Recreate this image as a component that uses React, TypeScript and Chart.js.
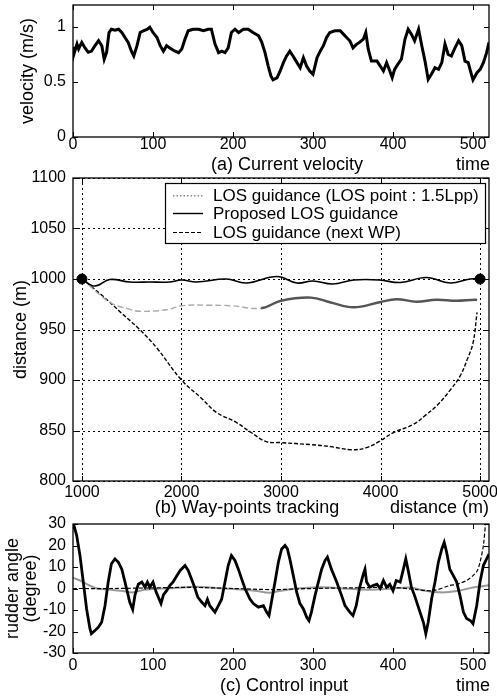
import React, { useEffect, useRef } from 'react';
import { Chart, registerables } from 'chart.js';

Chart.register(...registerables);

const FONT = "'Liberation Sans', Arial, Helvetica, sans-serif";

// ---------- (a) Current velocity ----------
const velTime = [
  0, 1, 5, 7, 11, 15, 19, 23, 27.5, 32,
  36, 39, 42, 45, 48, 52.5, 57, 61, 65, 69,
  73, 76, 80, 84, 88, 93, 96, 100, 105, 109,
  113, 117, 121, 127.5, 132, 136, 140, 144, 150, 157,
  163, 169, 173, 177.5, 182, 186, 190, 194, 198, 202.5,
  207, 213, 219, 225, 232, 236, 240, 244, 247.5, 250,
  255, 259, 263, 267, 271, 275, 280, 284, 288, 292,
  296, 300, 305, 309, 313, 317, 321, 327.5, 334, 338,
  342, 346, 350, 354, 358, 363, 366, 369, 373, 380,
  384, 388, 392, 396, 399, 402, 406, 410.5, 415, 419,
  423, 427, 432, 436, 440, 444, 448, 452.5, 457, 461,
  465, 469, 473, 477.5, 482, 486, 490, 494, 498, 500,
  505, 509, 513, 517, 520,
];
const velValue = [
  0.82, 0.75, 0.845, 0.8, 0.86, 0.81, 0.77, 0.78, 0.83, 0.875,
  0.83, 0.707, 0.77, 0.95, 0.98, 0.97, 0.98, 0.95, 0.905, 0.86,
  0.78, 0.737, 0.83, 0.95, 0.966, 0.98, 0.997, 0.95, 0.905, 0.83,
  0.78, 0.83, 0.81, 0.78, 0.767, 0.8, 0.89, 0.966, 0.98, 0.98,
  0.966, 0.98, 0.98, 0.845, 0.767, 0.78, 0.767, 0.81, 0.95, 0.98,
  0.95, 0.98, 0.98, 0.95, 0.92, 0.86, 0.767, 0.645, 0.553, 0.52,
  0.537, 0.6, 0.676, 0.737, 0.78, 0.737, 0.676, 0.63, 0.72, 0.645,
  0.6, 0.57, 0.72, 0.78, 0.83, 0.905, 0.95, 0.966, 0.966, 0.935,
  0.905, 0.875, 0.81, 0.84, 0.86, 0.89, 0.95, 0.8, 0.69, 0.69,
  0.645, 0.6, 0.676, 0.6, 0.54, 0.615, 0.66, 0.707, 0.89, 0.98,
  0.935, 0.875, 0.98, 0.83, 0.69, 0.523, 0.57, 0.63, 0.615, 0.676,
  0.845, 0.75, 0.737, 0.81, 0.875, 0.83, 0.69, 0.676, 0.57, 0.52,
  0.585, 0.615, 0.676, 0.767, 0.86,
];
const velTicksX = [0, 100, 200, 300, 400, 500];
const velTicksY = [0, 0.5, 1];

// ---------- (b) Way-points tracking ----------
const proposedX = [1000, 1130, 1280, 1480, 1680, 1880, 2000, 2150, 2450, 2650, 2960, 3160, 3320, 3520, 3730, 3990, 4200, 4460, 4700, 4900, 5000];
const proposedY = [1000, 993, 999.5, 997, 997, 997, 999, 997, 1000, 996, 1002.5, 996, 998, 995, 999, 999, 996.5, 1001.5, 996, 1000, 1000];

const los15X = [1000, 1280, 1480, 1580, 1850, 2000, 2300, 2500, 2800, 3000, 3300, 3500, 3730, 3990, 4160, 4360, 4560, 4760, 4950, 4970];
const los15Y = [1000, 977, 970, 968, 969.5, 973.5, 974, 973.5, 971, 978.5, 981.6, 976.7, 972, 977, 980, 977.5, 979.5, 978.5, 979.5, 979];

const nextWpX = [1000, 1200, 1400, 1580, 1750, 2000, 2200, 2350, 2550, 2700, 2850, 3000, 3300, 3500, 3700, 3860, 4000, 4130, 4330, 4450, 4570, 4700, 4800, 4870, 4930, 4970];
const nextWpY = [1000, 984, 966, 950, 932, 900, 882, 868, 858, 848, 839, 838, 836, 834, 831, 833, 840, 848, 856, 865, 875, 890, 904, 920, 937, 967];

const wayPointX = [1000, 5000];
const wayPointY = [1000, 1000];

const trackTicksX = [1000, 2000, 3000, 4000, 5000];
const trackTicksY = [800, 850, 900, 950, 1000, 1050, 1100];

const legendLabels = [
  'LOS guidance (LOS point : 1.5Lpp)',
  'Proposed LOS guidance',
  'LOS guidance (next WP)',
];

// ---------- (c) Control input ----------
const rudderTime = [
  0, 1.25, 4.6, 8.75, 12.9, 17, 21.25, 23, 27.5, 31.7,
  35.8, 40, 44, 48, 52.5, 56.7, 61, 65, 71, 74.6,
  77.5, 81.7, 86, 90, 93, 96, 100, 104, 110, 113,
  117, 121, 125, 130, 134, 140, 144, 148, 152, 156,
  161, 165, 168, 171, 177.5, 181.7, 185.8, 190, 194, 198,
  202.5, 206.7, 210.8, 215, 221, 225.4, 231.7, 238, 242, 245,
  248, 252.5, 256.7, 260.8, 265, 268, 271, 275.4, 279.6, 283.7,
  288, 292, 295, 298, 302.5, 306.7, 310.8, 315, 318, 323,
  329.6, 335.8, 340, 346, 350, 354, 358, 363, 365, 367,
  371, 375, 380, 384, 388, 392, 396, 400, 404, 409,
  413, 416, 419, 423, 427, 433.75, 438, 441, 444, 448.3,
  452.5, 456.7, 461, 464, 467, 471, 475.4, 479.6, 483.75, 488,
  492, 497, 500, 504.6, 508.75, 513, 517, 520,
];
const rudderProposed = [
  30, 29.3, 24.6, 15.3, 3, -9.5, -18.8, -21, -19.5, -18,
  -15.7, -8, 3, 11.5, 13.8, 12.2, 9, 3, -6.4, -9.8,
  -3, 2, 3, 0.6, 3, 0.6, 3, -1.7, -7, -3,
  -1, 1.4, 3, 6, 8.4, 10.7, 8.4, 4.5, 0.6, -4,
  -6.4, -8, -5, -8, -11, -8, -5, 3, 10.7, 15.3,
  13, 9, 4.5, 0, -4.8, -7, -8.7, -8, -11, -12.6,
  -6.4, 3, 12.2, 18.4, 20, 18.4, 13.8, 6, -1.7, -7,
  -9.5, -13.3, -15, -11, -3.3, 3, 9, 13, 14.6, 9,
  3, -3.3, -8, -11, -12.6, -8, 0, 6.8, 9, 3,
  0.6, 1.4, 2, 0, 3.7, 0.6, 2, -1, 3.7, 3,
  9, 13.8, 8.4, 0.6, -3.3, -11, -15.7, -21, -15.7, -4.8,
  3, 12.2, 18.4, 21.5, 17, 9, 6, 3, -3.3, -11,
  -14, -15, -16.4, -8, 3, 10.7, 13.8, 16,
];

const rudderLos15Time = [0, 10, 20, 30, 45, 60, 75, 90, 110, 130, 150, 170, 190, 210, 230, 245, 260, 280, 300, 320, 340, 360, 380, 400, 420, 440, 460, 480, 500, 520];
const rudderLos15 = [5, 3.5, 1.5, 0, -0.5, -1, -1.8, -0.5, 0, 0.3, 0.8, 0.5, 0, -0.5, -1.2, -2, -1, 0, 0.5, 0.5, 0, -0.5, -0.5, 0, 0.5, -1, -1.8, -1.2, 0.5, 1.5];

const rudderNextWpTime = [0, 50, 100, 150, 200, 250, 300, 350, 400, 430, 450, 471, 480, 492, 500, 505, 508.75, 513, 516, 520];
const rudderNextWp = [0, 0, 0.3, 0.5, 0, -0.5, 0, 0.3, 0.5, -0.5, -1, 1.4, 2, 3.7, 6, 8, 12.2, 20, 31, 40];

const rudderTicksX = [0, 100, 200, 300, 400, 500];
const rudderTicksY = [-30, -20, -10, 0, 10, 20, 30];

// ---------- helpers ----------
const zip = (xs: number[], ys: number[]) => xs.map((x, i) => ({ x, y: ys[i] }));
const fmt = (v: any) => String(v);

const framePlugin = {
  id: 'frame',
  beforeDatasetsDraw(chart: any, _a: any, opts: any) {
    if (!opts || !opts.grid) return;
    const { ctx, chartArea: a } = chart;
    const xs = chart.scales.x;
    const ys = chart.scales.y;
    ctx.save();
    ctx.strokeStyle = '#000';
    ctx.lineWidth = 1;
    ctx.setLineDash([2, 3]);
    xs.ticks.forEach((t: any) => {
      const p = Math.round(xs.getPixelForValue(t.value)) + 0.5;
      ctx.beginPath();
      ctx.moveTo(p, a.top);
      ctx.lineTo(p, a.bottom);
      ctx.stroke();
    });
    ys.ticks.forEach((t: any) => {
      const p = Math.round(ys.getPixelForValue(t.value)) + 0.5;
      ctx.beginPath();
      ctx.moveTo(a.left, p);
      ctx.lineTo(a.right, p);
      ctx.stroke();
    });
    ctx.restore();
  },
  afterDatasetsDraw(chart: any, _a: any, opts: any) {
    const { ctx, chartArea: a } = chart;
    const xs = chart.scales.x;
    const ys = chart.scales.y;
    ctx.save();
    ctx.strokeStyle = '#000';
    ctx.lineWidth = 1.3;
    ctx.setLineDash([]);
    ctx.strokeRect(a.left, a.top, a.right - a.left, a.bottom - a.top);
    const L = 5;
    ctx.lineWidth = 1;
    xs.ticks.forEach((t: any) => {
      const p = Math.round(xs.getPixelForValue(t.value)) + 0.5;
      ctx.beginPath();
      ctx.moveTo(p, a.bottom);
      ctx.lineTo(p, a.bottom - L);
      ctx.moveTo(p, a.top);
      ctx.lineTo(p, a.top + L);
      ctx.stroke();
    });
    ys.ticks.forEach((t: any) => {
      const p = Math.round(ys.getPixelForValue(t.value)) + 0.5;
      ctx.beginPath();
      ctx.moveTo(a.left, p);
      ctx.lineTo(a.left + L, p);
      ctx.moveTo(a.right, p);
      ctx.lineTo(a.right - L, p);
      ctx.stroke();
    });
    if (opts && opts.legend) {
      const lg = opts.legend;
      const bx = a.left + lg.dx;
      const by = a.top + lg.dy;
      ctx.fillStyle = '#fff';
      ctx.fillRect(bx, by, lg.w, lg.h);
      ctx.lineWidth = 1.2;
      ctx.strokeStyle = '#000';
      ctx.strokeRect(bx + 0.5, by + 0.5, lg.w, lg.h);
      const items = chart.data.datasets.filter((d: any) => d.legendRow !== undefined);
      items.forEach((d: any) => {
        const y = by + lg.rows[d.legendRow];
        ctx.save();
        ctx.strokeStyle = d.legendColor;
        ctx.lineWidth = d.legendWidth;
        ctx.setLineDash(d.legendDash);
        ctx.beginPath();
        ctx.moveTo(bx + 8, y);
        ctx.lineTo(bx + 38, y);
        ctx.stroke();
        ctx.restore();
        ctx.fillStyle = '#000';
        ctx.font = `17px ${FONT}`;
        ctx.textBaseline = 'middle';
        ctx.textAlign = 'left';
        ctx.fillText(d.label, bx + 48, y + 1);
      });
    }
    ctx.restore();
  },
};

function axisX(min: number, max: number, ticks: number[], height: number, pad: number) {
  return {
    type: 'linear',
    min,
    max,
    ticks: {
      autoSkip: false,
      maxRotation: 0,
      padding: pad,
      color: '#000',
      font: { size: 16, family: FONT },
      callback: fmt,
    },
    grid: { display: false, drawTicks: false },
    border: { display: false },
    afterBuildTicks: (s: any) => {
      s.ticks = ticks.map((v) => ({ value: v }));
    },
    afterFit: (s: any) => {
      s.height = height;
      s.paddingLeft = 0;
      s.paddingRight = 0;
    },
  };
}

function axisY(min: number, max: number, ticks: number[], title: any, titlePad: number) {
  return {
    type: 'linear',
    min,
    max,
    ticks: {
      autoSkip: false,
      padding: 7,
      color: '#000',
      font: { size: 16, family: FONT },
      callback: fmt,
    },
    grid: { display: false, drawTicks: false },
    border: { display: false },
    title: {
      display: true,
      text: title,
      color: '#000',
      font: { size: 18, family: FONT, lineHeight: 1 },
      padding: { top: titlePad, bottom: 0 },
    },
    afterBuildTicks: (s: any) => {
      s.ticks = ticks.map((v) => ({ value: v }));
    },
    afterFit: (s: any) => {
      s.width = 73;
      s.paddingTop = 0;
      s.paddingBottom = 0;
    },
  };
}

function configA(): any {
  return {
    type: 'line',
    data: {
      datasets: [
        {
          label: 'Current velocity',
          data: zip(velTime, velValue),
          borderColor: '#000',
          borderWidth: 3,
          pointRadius: 0,
          tension: 0,
        },
      ],
    },
    options: {
      animation: false,
      responsive: false,
      layout: { padding: { top: 5, right: 8, left: 0, bottom: 0 } },
      plugins: { legend: { display: false }, tooltip: { enabled: false }, frame: { grid: false } },
      scales: {
        x: axisX(0, 520, velTicksX, 155 - 137, -2),
        y: axisY(0, 1.2, velTicksY, 'velocity (m/s)', 19),
      },
    },
    plugins: [framePlugin],
  };
}

function configB(): any {
  return {
    type: 'line',
    data: {
      datasets: [
        {
          label: 'Way points',
          data: zip(wayPointX, wayPointY),
          showLine: false,
          pointRadius: 5,
          pointBackgroundColor: '#000',
          pointBorderColor: '#000',
        },
        {
          label: legendLabels[1],
          data: zip(proposedX, proposedY),
          borderColor: '#000',
          borderWidth: 1.6,
          pointRadius: 0,
          tension: 0.4,
          legendRow: 1,
          legendColor: '#000',
          legendWidth: 1.4,
          legendDash: [],
        },
        {
          label: legendLabels[0],
          data: zip(los15X, los15Y),
          borderColor: '#777',
          borderWidth: 2.2,
          pointRadius: 0,
          tension: 0.4,
          segment: {
            borderColor: (c: any) => (c.p0.parsed.x < 2800 ? '#aaa' : '#555'),
            borderDash: (c: any) => (c.p0.parsed.x < 2800 ? [6, 3] : []),
            borderWidth: (c: any) => (c.p0.parsed.x < 2800 ? 1.4 : 2.4),
          },
          legendRow: 0,
          legendColor: '#888',
          legendWidth: 1.6,
          legendDash: [1.5, 2],
        },
        {
          label: legendLabels[2],
          data: zip(nextWpX, nextWpY),
          borderColor: '#000',
          borderWidth: 1.4,
          borderDash: [4, 2],
          pointRadius: 0,
          tension: 0.4,
          legendRow: 2,
          legendColor: '#000',
          legendWidth: 1.2,
          legendDash: [4, 2],
        },
      ],
    },
    options: {
      animation: false,
      responsive: false,
      layout: { padding: { top: 18, right: 8, left: 0, bottom: 0 } },
      plugins: {
        legend: { display: false },
        tooltip: { enabled: false },
        frame: { grid: true, legend: { dx: 92, dy: 5, w: 320, h: 60, rows: [12.7, 30.5, 49.5] } },
      },
      scales: {
        x: axisX(910, 5090, trackTicksX, 340 - (481 - 160), 2),
        y: axisY(800, 1100, trackTicksY, 'distance (m)', 12),
      },
    },
    plugins: [framePlugin],
  };
}

function configC(): any {
  return {
    type: 'line',
    data: {
      datasets: [
        {
          label: 'Rudder (proposed)',
          data: zip(rudderTime, rudderProposed),
          borderColor: '#000',
          borderWidth: 2.8,
          pointRadius: 0,
          tension: 0,
        },
        {
          label: 'Rudder (next WP)',
          data: zip(rudderNextWpTime, rudderNextWp),
          borderColor: '#000',
          borderWidth: 1.2,
          borderDash: [4, 2],
          pointRadius: 0,
          tension: 0.3,
        },
        {
          label: 'Rudder (LOS 1.5Lpp)',
          data: zip(rudderLos15Time, rudderLos15),
          borderColor: '#999',
          borderWidth: 2,
          pointRadius: 0,
          tension: 0.3,
        },
      ],
    },
    options: {
      animation: false,
      responsive: false,
      layout: { padding: { top: 19, right: 8, left: 0, bottom: 0 } },
      plugins: { legend: { display: false }, tooltip: { enabled: false }, frame: { grid: false } },
      scales: {
        x: axisX(0, 520, rudderTicksX, 175 - (653 - 505), 3),
        y: axisY(-30, 30, rudderTicksY, ['rudder angle', '(degree)'], 4),
      },
    },
    plugins: [framePlugin],
  };
}

function ChartBox(props: { top: number; height: number; make: () => any }) {
  const ref = useRef<HTMLCanvasElement | null>(null);
  useEffect(() => {
    if (!ref.current) return;
    const chart = new Chart(ref.current, props.make());
    return () => chart.destroy();
  }, []);
  return (
    <div style={{ position: 'absolute', left: 0, top: props.top, width: 497, height: props.height }}>
      <canvas ref={ref} width={497} height={props.height} style={{ display: 'block' }} />
    </div>
  );
}

function Caption(props: { text: string; x: number; y: number; align: 'center' | 'right' }) {
  const tr = props.align === 'center' ? 'translate(-50%, -50%)' : 'translate(-100%, -50%)';
  return (
    <div
      style={{
        position: 'absolute',
        left: props.x,
        top: props.y,
        transform: tr,
        whiteSpace: 'nowrap',
        fontFamily: FONT,
        fontSize: 18,
        lineHeight: 1,
        color: '#000',
      }}
    >
      {props.text}
    </div>
  );
}

export default function App() {
  return (
    <div style={{ position: 'fixed', left: 0, top: 0, width: 497, height: 697, background: '#fff', overflow: 'hidden' }}>
      <ChartBox top={0} height={155} make={configA} />
      <ChartBox top={160} height={340} make={configB} />
      <ChartBox top={505} height={175} make={configC} />
      <Caption text="(a) Current velocity" x={287} y={164} align="center" />
      <Caption text="time" x={490} y={164} align="right" />
      <Caption text="(b) Way-points tracking" x={247} y={507} align="center" />
      <Caption text="distance (m)" x={489} y={507} align="right" />
      <Caption text="(c) Control input" x={284} y={685} align="center" />
      <Caption text="time" x={490} y={685} align="right" />
    </div>
  );
}
